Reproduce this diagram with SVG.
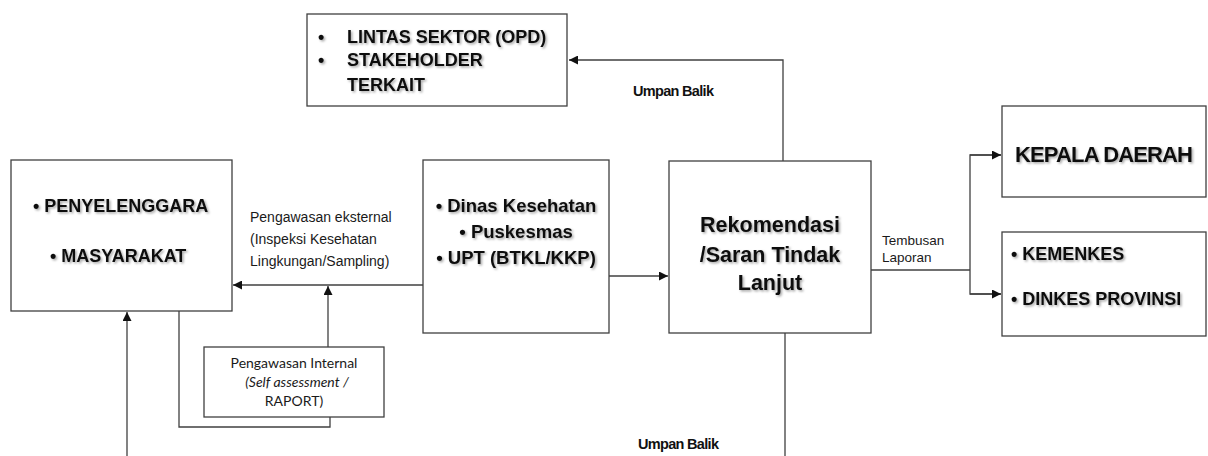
<svg xmlns="http://www.w3.org/2000/svg" width="1208" height="456" viewBox="0 0 1208 456">
<defs>
<style>
.box{fill:#fff;stroke:#404040;stroke-width:1.3}
.ln{fill:none;stroke:#404040;stroke-width:1.3}
.b{font-family:"Liberation Sans",Arial,sans-serif;font-weight:bold;fill:#111}
.r{font-family:"Liberation Sans",Arial,sans-serif;fill:#1a1a1a}
.c{font-family:Lato,"Open Sans",sans-serif;fill:#1a1a1a;font-size:14px}
.sh{filter:url(#shadow)}
</style>
<filter id="shadow" x="-10%" y="-30%" width="120%" height="160%">
<feDropShadow dx="1.5" dy="1.5" stdDeviation="1" flood-color="#000" flood-opacity="0.35"/>
</filter>
<marker id="ah" viewBox="0 0 10 10" refX="10" refY="5" markerWidth="9" markerHeight="9" markerUnits="userSpaceOnUse" orient="auto">
<path d="M0,0 L10,5 L0,10 z" fill="#111"/>
</marker>
</defs>
<rect width="1208" height="456" fill="#fff"/>

<g id="connectors">
<polyline class="ln" points="783,161 783,60 569,60" marker-end="url(#ah)"/>
<line class="ln" x1="423" y1="285" x2="233" y2="285" marker-end="url(#ah)"/>
<line class="ln" x1="328" y1="347" x2="328" y2="286" marker-end="url(#ah)"/>
<polyline class="ln" points="179,311 179,427 330,427 330,417"/>
<line class="ln" x1="609" y1="276" x2="668" y2="276" marker-end="url(#ah)"/>
<line class="ln" x1="871" y1="270" x2="970" y2="270"/>
<polyline class="ln" points="1001,155 970,155 970,294 1001,294"/>
<line class="ln" x1="970" y1="155" x2="1001" y2="155" marker-end="url(#ah)"/>
<line class="ln" x1="970" y1="294" x2="1001" y2="294" marker-end="url(#ah)"/>
<polyline class="ln" points="785,333 785,457 127,457"/>
<line class="ln" x1="127" y1="457" x2="127" y2="312" marker-end="url(#ah)"/>
</g>

<g id="label-umpan-balik-top"><text class="b" x="633" y="96" font-size="14.5" textLength="81" fill="#222">Umpan Balik</text></g>
<g id="label-umpan-balik-bottom"><text class="b" x="638" y="449" font-size="14.5" textLength="81" fill="#222">Umpan Balik</text></g>
<g id="label-eksternal">
<text class="r" x="250" y="222" font-size="14">Pengawasan eksternal</text>
<text class="r" x="250" y="244" font-size="14">(Inspeksi Kesehatan</text>
<text class="r" x="250" y="266" font-size="14">Lingkungan/Sampling)</text>
</g>
<g id="label-tembusan">
<text class="r" x="882" y="245" font-size="13.5">Tembusan</text>
<text class="r" x="882" y="262" font-size="13.5">Laporan</text>
</g>

<g id="node-lintas">
<rect class="box" x="307" y="14" width="260" height="92"/>
<g class="b sh" font-size="18">
<text x="318" y="43">•</text>
<text x="347" y="43">LINTAS SEKTOR (OPD)</text>
<text x="318" y="66">•</text>
<text x="347" y="66">STAKEHOLDER</text>
<text x="347" y="91">TERKAIT</text>
</g>
</g>

<g id="node-penyelenggara">
<rect class="box" x="11" y="160" width="221" height="151"/>
<g class="b sh" font-size="18">
<text x="33" y="212">• PENYELENGGARA</text>
<text x="50" y="262">• MASYARAKAT</text>
</g>
</g>

<g id="node-dinas">
<rect class="box" x="423" y="160" width="186" height="173"/>
<g class="b sh" font-size="18.5" text-anchor="middle">
<text x="516" y="212">• Dinas Kesehatan</text>
<text x="516" y="238">• Puskesmas</text>
<text x="516" y="264">• UPT (BTKL/KKP)</text>
</g>
</g>

<g id="node-internal">
<rect class="box" x="204" y="347" width="180" height="70"/>
<g class="c" text-anchor="middle">
<text x="294" y="368">Pengawasan Internal</text>
<text x="297" y="387" font-style="italic">(Self assessment /</text>
<text x="294" y="406">RAPORT)</text>
</g>
</g>

<g id="node-rekomendasi">
<rect class="box" x="669" y="161" width="202" height="172"/>
<g class="b sh" font-size="21.5" text-anchor="middle">
<text x="770" y="232">Rekomendasi</text>
<text x="770" y="262">/Saran Tindak</text>
<text x="770" y="290">Lanjut</text>
</g>
</g>

<g id="node-kepala">
<rect class="box" x="1002" y="106" width="204" height="91"/>
<text class="b sh" x="1015" y="162" font-size="22" textLength="178">KEPALA DAERAH</text>
</g>

<g id="node-kemenkes">
<rect class="box" x="1002" y="232" width="204" height="104"/>
<g class="b sh" font-size="18">
<text x="1011" y="260">• KEMENKES</text>
<text x="1011" y="305">• DINKES PROVINSI</text>
</g>
</g>
</svg>
